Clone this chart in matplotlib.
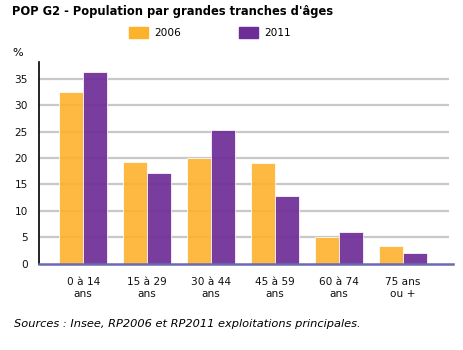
import matplotlib
matplotlib.use("Agg")
import matplotlib.pyplot as plt
import numpy as np

categories = ["0 à 14\nans", "15 à 29\nans", "30 à 44\nans", "45 à 59\nans", "60 à 74\nans", "75 ans\nou +"]
series_names = ["2006", "2011"]
values_2006 = [32.5, 19.2, 20.0, 19.1, 5.0, 3.3]
values_2011 = [36.3, 17.1, 25.3, 12.8, 6.0, 2.0]
yticks = [0, 5, 10, 15, 20, 25, 30, 35]

orange = "#FDB22C"
purple = "#6E2C97"

plt.rcParams['font.family'] = ['DejaVu Sans']
fig = plt.figure(figsize=(4.64, 3.5), dpi=100)
ax = fig.add_axes([39/464, 1-263.5/350, (453-39)/464, (263.5-62)/350])

x = np.arange(len(categories))
w = 0.375
ax.bar(x - w/2, values_2006, width=w, color=orange, alpha=0.9, edgecolor="#ffffff", linewidth=0.6, zorder=3)
ax.bar(x + w/2, values_2011, width=w, color=purple, alpha=0.92, edgecolor="#ffffff", linewidth=0.6, zorder=3)

ax.set_xlim(-0.69, 5.78)
ax.set_ylim(0, 38.2)
ax.set_yticks(yticks)
ax.set_yticklabels([str(t) for t in yticks], fontsize=7.6)
ax.set_xticks(x)
ax.set_xticklabels(categories, fontsize=7.6, linespacing=1.25)
ax.tick_params(axis='both', length=0, colors="#111111")
ax.tick_params(axis='y', pad=8)
ax.tick_params(axis='x', pad=10)
for t in yticks[1:]:
    ax.plot([-0.69, 5.72], [t, t], color="#c8c8c8", linewidth=1.6, zorder=1, solid_capstyle='butt')

for s in ["top", "right"]:
    ax.spines[s].set_visible(False)
ax.spines["left"].set_color("#000000")
ax.spines["left"].set_linewidth(1.2)
ax.spines["bottom"].set_color("#6A6AB0")
ax.spines["bottom"].set_linewidth(1.8)
ax.spines["bottom"].set_zorder(4)

fig.text(12/464, 1-12/350, "POP G2 - Population par grandes tranches d'âges", fontsize=8.3, fontweight="bold", va="center", ha="left")
# legend
from matplotlib.patches import Rectangle
fig.patches.append(Rectangle((129/464, 1-38/350), 19/464, 11/350, transform=fig.transFigure, color=orange, figure=fig))
fig.patches.append(Rectangle((239/464, 1-38/350), 19/464, 11/350, transform=fig.transFigure, color=purple, figure=fig))
fig.text(154/464, 1-33/350, series_names[0], fontsize=7.6, va="center", ha="left")
fig.text(264/464, 1-33/350, series_names[1], fontsize=7.6, va="center", ha="left")
fig.text(12/464, 1-53/350, "%", fontsize=8, va="center", ha="left")
fig.text(14/464, 1-324/350, "Sources : Insee, RP2006 et RP2011 exploitations principales.", fontsize=8.2, style="italic", va="center", ha="left")

fig.savefig("out.png", dpi=100)
